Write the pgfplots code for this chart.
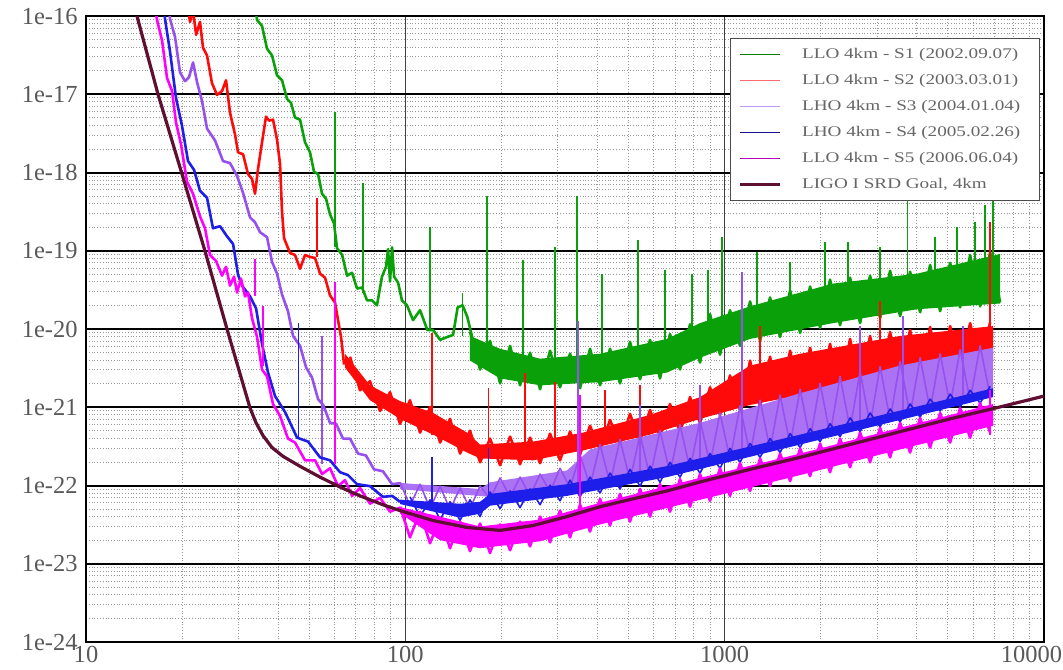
\documentclass[border=0pt]{standalone}
\usepackage{pgfplots}
\pgfplotsset{compat=1.18}
\usepackage{fontspec}
\setmainfont{Liberation Serif}
\newfontfamily\wide[FakeStretch=1.3]{Liberation Serif}
\definecolor{cS1}{RGB}{10,160,10}
\definecolor{cS2}{RGB}{255,10,10}
\definecolor{cS3}{RGB}{150,80,240}
\definecolor{cS4}{RGB}{30,30,235}
\definecolor{cS5}{RGB}{255,0,255}
\definecolor{cGoal}{RGB}{95,15,50}
\pgfplotsset{
 zig/.style={line width=1.3bp, line join=round, forget plot},
 low/.style={line width=1.3bp, line join=round, forget plot},
 spk/.style={line width=0.7bp, unbounded coords=jump, forget plot},
 band/.style={draw=none, forget plot}
}
\newcommand{\ylab}[1]{#1\kern3bp}
\newcommand{\legtxt}[1]{\hspace*{10bp}#1\kern3.5bp}
\begin{document}
\begin{tikzpicture}
\begin{axis}[
 xmode=log, ymode=log,
 scale only axis, width=479bp, height=313bp,
 xmin=10, xmax=10000, ymin=1e-24, ymax=1e-16,
 xtick={10,100,1000,10000}, xticklabels={10,100,1000,{\hbox to 0pt{\hss 10000\kern-9bp}}},
 ytick={1e-24,1e-23,1e-22,1e-21,1e-20,1e-19,1e-18,1e-17,1e-16},
 yticklabels={\ylab{1e-24},\ylab{1e-23},\ylab{1e-22},\ylab{1e-21},\ylab{1e-20},\ylab{1e-19},\ylab{1e-18},\ylab{1e-17},\ylab{1e-16}},
 minor xtick={20,30,40,50,60,70,80,90,200,300,400,500,600,700,800,900,2000,3000,4000,5000,6000,7000,8000,9000},
 minor ytick={2e-24,3e-24,4e-24,5e-24,6e-24,7e-24,8e-24,9e-24,
 2e-23,3e-23,4e-23,5e-23,6e-23,7e-23,8e-23,9e-23,
 2e-22,3e-22,4e-22,5e-22,6e-22,7e-22,8e-22,9e-22,
 2e-21,3e-21,4e-21,5e-21,6e-21,7e-21,8e-21,9e-21,
 2e-20,3e-20,4e-20,5e-20,6e-20,7e-20,8e-20,9e-20,
 2e-19,3e-19,4e-19,5e-19,6e-19,7e-19,8e-19,9e-19,
 2e-18,3e-18,4e-18,5e-18,6e-18,7e-18,8e-18,9e-18,
 2e-17,3e-17,4e-17,5e-17,6e-17,7e-17,8e-17,9e-17},
 grid=both,
 major x grid style={black!75, line width=0.6bp},
 major y grid style={black, line width=1bp},
 minor grid style={black!40, densely dotted, line width=0.45bp},
 major tick length=0pt, minor tick length=0pt,
 axis line style={black, line width=1.2bp},
 ticklabel style={font=\fontsize{12.3}{13}\selectfont, text=black!65, inner sep=1bp},
 xticklabel style={yshift=-1bp},
 legend style={at={(0.9958,0.965)}, anchor=north east, draw=black!70, line width=0.6bp,
   fill=white, font=\wide\fontsize{7.4}{9}\selectfont, text=black!60,
   inner xsep=5bp, inner ysep=3bp, row sep=3bp,
   nodes={inner sep=1bp, text height=6bp, text depth=2bp}},
 legend cell align=left,
 legend image code/.code={\draw[#1, overlay] (0bp,0bp) -- (20bp,0bp); \path[draw=none, fill=none] (0bp,0bp) -- (20bp,0bp);},
]
% ===== legend =====
\addlegendimage{cS1!80!black, line width=0.6bp}\addlegendentry{\legtxt{LLO 4km - S1 (2002.09.07)}}
\addlegendimage{cS2!60!white, line width=0.6bp}\addlegendentry{\legtxt{LLO 4km - S2 (2003.03.01)}}
\addlegendimage{cS3!60!white, line width=0.6bp}\addlegendentry{\legtxt{LHO 4km - S3 (2004.01.04)}}
\addlegendimage{cS4!60!black, line width=0.7bp}\addlegendentry{\legtxt{LHO 4km - S4 (2005.02.26)}}
\addlegendimage{cS5!70!black, line width=0.6bp}\addlegendentry{\legtxt{LLO 4km - S5 (2006.06.04)}}
\addlegendimage{cGoal, line width=1.6bp}\addlegendentry{\legtxt{LIGO I SRD Goal, 4km}}

% ===== S1 green =====
\addplot[band, fill=cS1] coordinates {(159.4,8.16e-21) (198,5.59e-21) (264.2,4.18e-21) (407.1,4.83e-21) (660,7.48e-21) (837.1,1.19e-20) (1201,1.95e-20) (2185,3.81e-20) (4005,5.10e-20) (7288,9.1e-20) (7288,2.12e-20) (4005,1.79e-20) (2185,1.19e-20) (1201,7.48e-21) (837.1,4.30e-21) (660,2.78e-21) (407.1,2.09e-21) (264.2,1.91e-21) (198,2.34e-21) (159.4,3.95e-21)};
\addplot[zig, cS1] coordinates {(159.4,9.17e-21) (171.4,3.04e-21) (184.2,7.06e-21) (198,2.02e-21) (212.8,6.10e-21) (228.7,1.91e-21) (245.8,4.98e-21) (264.2,1.70e-21) (283.9,5.28e-21) (305.1,1.80e-21) (327.9,4.83e-21) (352.4,1.75e-21) (378.8,5.59e-21) (407.1,1.91e-21) (437.5,5.59e-21) (470.2,2.02e-21) (505.3,6.86e-21) (543.2,2.28e-21) (583.8,7.27e-21) (627.4,2.34e-21) (674.3,8.64e-21) (724.7,3.04e-21) (779,1.15e-20) (837.1,3.73e-21) (899.7,1.55e-20) (966.9,4.70e-21) (1039,1.74e-20) (1117,6.10e-21) (1201,2.25e-20) (1291,7.06e-21) (1387,2.53e-20) (1491,7.92e-21) (1603,3.11e-20) (1723,8.91e-21) (1851,3.49e-20) (1990,1.03e-20) (2138,4.28e-20) (2298,1.12e-20) (2470,4.53e-20) (2655,1.19e-20) (2853,4.81e-20) (3067,1.38e-20) (3296,5.56e-20) (3543,1.46e-20) (3807,5.40e-20) (4093,1.64e-20) (4399,6.61e-20) (4728,1.69e-20) (5082,7.00e-20) (5461,1.89e-20) (5870,8.83e-20) (6309,1.95e-20) (6781,9.64e-20) (7288,2.18e-20)};
\addplot[low, cS1] coordinates {(33.1,2.39e-16) (34.33,8.91e-17) (35.58,7.47e-17) (36.89,3.83e-17) (38.25,3.13e-17) (39.65,1.75e-17) (41.1,1.51e-17) (42.62,8.71e-18) (43.86,7.75e-18) (45.14,5.03e-18) (46.8,4.74e-18) (48.52,2.43e-18) (50.29,1.81e-18) (51.77,1.02e-18) (53.3,9.57e-19) (54.86,5.35e-19) (56.46,4.62e-19) (58.1,2.91e-19) (59.8,2.24e-19) (61.1,1.08e-19) (63.4,8.83e-20) (65.7,4.81e-20) (68.1,5.24e-20) (70.6,3.29e-20) (73.2,3.39e-20) (75.9,2.32e-20) (78.65,2.32e-20) (81.5,2.01e-20) (84.5,4.67e-20) (87.0,6.24e-20) (88.3,1.05e-19) (89.55,4.04e-20) (90.9,1.11e-19) (92.2,4.67e-20) (94.9,3.92e-20) (97.6,2.32e-20) (101.2,2.01e-20) (105.7,1.30e-20) (111.2,1.74e-20) (117.2,9.72e-21) (122.2,9.72e-21) (128.5,7.27e-21) (135.3,7.92e-21) (141.1,8.40e-21) (145.8,1.89e-20) (151.1,2.01e-20) (156.4,1.42e-20) (164.1,6.28e-21)};
\addplot[spk, cS1] coordinates {(60.23,5.97e-18)(60.23,1.11e-19)(60.23,nan) (73.7,7.38e-19)(73.7,2.85e-20)(73.7,nan) (119.5,2.0e-19)(119.5,9.44e-21)(119.5,nan) (151.1,2.85e-20)(151.1,8.16e-21)(151.1,nan) (180.3,5.04e-19)(180.3,4.56e-21)(180.3,nan) (233.7,7.64e-20)(233.7,3.41e-21)(233.7,nan) (294.3,1.11e-19)(294.3,3.95e-21)(294.3,nan) (345,5.04e-19)(345,3.95e-21)(345,nan) (413,5.10e-20)(413,4.56e-21)(413,nan) (535.5,1.37e-19)(535.5,5.28e-21)(535.5,nan) (650.4,5.72e-20)(650.4,6.10e-21)(650.4,nan) (790,5.10e-20)(790,8.16e-21)(790,nan) (887,5.72e-20)(887,9.44e-21)(887,nan) (981,1.49e-19)(981,1.26e-20)(981,nan) (1264,9.64e-20)(1264,1.95e-20)(1264,nan) (1603,7.21e-20)(1603,2.61e-20)(1603,nan) (2062,1.29e-19)(2062,3.02e-20)(2062,nan) (2435,1.29e-19)(2435,3.49e-20)(2435,nan) (3067,1.11e-19)(3067,4.04e-20)(3067,nan) (3730,4.36e-19)(3730,4.67e-20)(3730,nan) (4558,1.49e-19)(4558,5.4e-20)(4558,nan) (5340,2.0e-19)(5340,6.24e-20)(5340,nan) (6082,2.31e-19)(6082,7.21e-20)(6082,nan) (6537,3.89e-19)(6537,7.21e-20)(6537,nan) (6932,5.51e-19)(6932,8.34e-20)};

% ===== S2 red =====
\addplot[band, fill=cS2] coordinates {(64.74,4.83e-21) (77.52,1.91e-21) (96.25,1.20e-21) (122.2,8.46e-22) (156.1,4.74e-22) (171.4,3.34e-22) (251.2,3.64e-22) (360.1,4.74e-22) (583.8,7.98e-22) (837.1,1.35e-21) (1201,3.41e-21) (1723,4.83e-21) (3543,8.16e-21) (6932,1.09e-20) (6932,3.84e-21) (3543,2.55e-21) (1723,1.43e-21) (1201,1.07e-21) (837.1,7.11e-22) (583.8,4.47e-22) (360.1,2.81e-22) (251.2,2.10e-22) (171.4,2.22e-22) (156.1,2.64e-22) (122.2,4.47e-22) (96.25,7.11e-22) (77.52,1.23e-21) (64.74,3.22e-21)};
\addplot[zig, cS2] coordinates {(67.12,4.43e-21) (72.13,1.65e-21) (77.52,2.15e-21) (83.32,8.96e-22) (89.55,1.56e-21) (96.25,6.15e-22) (103.4,1.23e-21) (111.2,4.74e-22) (119.5,1.01e-21) (128.5,3.54e-22) (138,7.11e-22) (148.4,2.56e-22) (159.4,5.01e-22) (171.4,1.98e-22) (184.2,3.98e-22) (198,1.82e-22) (212.8,4.22e-22) (228.7,1.87e-22) (245.8,4.09e-22) (264.2,1.93e-22) (283.9,4.60e-22) (305.1,2.10e-22) (327.9,4.87e-22) (352.4,2.49e-22) (378.8,5.80e-22) (407.1,2.81e-22) (437.5,6.90e-22) (470.2,3.34e-22) (505.3,8.22e-22) (543.2,3.64e-22) (583.8,9.23e-22) (627.4,4.22e-22) (674.3,1.10e-21) (724.7,4.74e-22) (779,1.35e-21) (837.1,6.32e-22) (899.7,1.80e-21) (966.9,7.98e-22) (1039,2.55e-21) (1117,9.23e-22) (1201,3.95e-21) (1291,1.01e-21) (1387,4.43e-21) (1491,1.13e-21) (1603,5.28e-21) (1723,1.27e-21) (1851,5.76e-21) (1990,1.43e-21) (2138,6.46e-21) (2298,1.56e-21) (2470,7.48e-21) (2655,1.80e-21) (2853,8.16e-21) (3067,2.02e-21) (3296,9.17e-21) (3543,2.28e-21) (3807,9.72e-21) (4093,2.48e-21) (4399,1.06e-20) (4728,2.78e-21) (5082,1.09e-20) (5461,2.95e-21) (5870,1.19e-20) (6309,3.22e-21) (6781,1.22e-20)};
\addplot[low, cS2] coordinates {(20.42,2.39e-16) (21.17,8.41e-17) (21.64,1.19e-16) (22.12,5.75e-17) (22.75,8.41e-17) (23.25,3.94e-17) (23.93,3.13e-17) (24.8,1.39e-17) (25.72,9.81e-18) (26.67,1.10e-17) (27.45,1.51e-17) (28.25,5.81e-18) (29.29,3.06e-18) (29.93,1.81e-18) (31.03,1.71e-18) (32.16,9.57e-19) (33.1,8.28e-19) (33.83,5.35e-19) (34.57,1.11e-18) (35.58,2.43e-18) (36.62,5.17e-18) (37.43,4.61e-18) (38.52,4.74e-18) (39.65,2.64e-18) (40.52,1.28e-18) (41.1,3.17e-19) (41.7,1.45e-19) (43.54,9.36e-20) (45.14,8.83e-20) (46.8,5.89e-20) (48.52,8.83e-20) (50.29,8.34e-20) (52.14,8.10e-20) (54.07,5.10e-20) (56.05,4.53e-20) (58.1,2.69e-20) (60.23,2.18e-20) (61.55,1.30e-20) (62.9,7.92e-21) (64.3,3.51e-21)};
\addplot[spk, cS2] coordinates {(52.9,4.76e-19)(52.9,8.34e-20)(52.9,nan) (121.2,8.91e-21)(121.2,4.47e-22)(121.2,nan) (182.2,1.75e-21)(182.2,2.49e-22)(182.2,nan) (237.1,2.78e-21)(237.1,2.89e-22)(237.1,nan) (294.3,2.09e-21)(294.3,3.34e-22)(294.3,nan) (422,1.65e-21)(422,4.47e-22)(422,nan) (543.2,1.91e-21)(543.2,5.97e-22)(543.2,nan) (1291,1.09e-20)(1291,1.91e-21)(1291,nan) (3067,2.25e-20)(3067,6.10e-21)(3067,nan) (6781,2.31e-19)(6781,8.16e-21)};

% ===== S3 purple =====
\addplot[band, fill=cS3!80!white] coordinates {(96.25,1.08e-22) (171.4,9.03e-23) (184.2,1.10e-22) (320.8,1.56e-22) (378.8,2.89e-22) (837.1,6.32e-22) (1723,1.51e-21) (3543,3.41e-21) (6932,5.76e-21) (6932,1.51e-21) (3543,7.98e-22) (1723,3.75e-22) (837.1,1.87e-22) (378.8,1.04e-22) (184.2,7.16e-23) (96.25,9.0e-23)};
\addplot[zig, cS3, line width=0.8bp] coordinates {(96.25,1.10e-22) (103.4,5.52e-23) (111.2,1.04e-22) (119.5,5.06e-23) (128.5,9.82e-23) (138,4.91e-23) (148.4,9.30e-23) (159.4,5.06e-23) (171.4,9.82e-23) (184.2,6.76e-23) (198,1.25e-22) (212.8,7.16e-23) (228.7,1.28e-22) (245.8,7.37e-23) (264.2,1.40e-22) (283.9,8.27e-23) (305.1,1.66e-22) (327.9,9.30e-23) (352.4,2.49e-22) (378.8,9.82e-23) (407.1,3.34e-22) (437.5,1.07e-22) (470.2,3.86e-22) (505.3,1.17e-22) (543.2,4.47e-22) (583.8,1.28e-22) (627.4,5.01e-22) (674.3,1.44e-22) (724.7,5.97e-22) (779,1.61e-22) (837.1,6.90e-22) (899.7,1.87e-22) (966.9,8.45e-22) (1039,2.16e-22) (1117,1.04e-21) (1201,2.49e-22) (1291,1.23e-21) (1387,2.89e-22) (1491,1.43e-21) (1603,3.34e-22) (1723,1.70e-21) (1851,3.86e-22) (1990,2.02e-21) (2138,4.47e-22) (2298,2.48e-21) (2470,5.31e-22) (2655,2.86e-21) (2853,5.97e-22) (3067,3.31e-21) (3296,6.90e-22) (3543,3.84e-21) (3807,7.98e-22) (4093,4.30e-21) (4399,9.23e-22) (4728,4.83e-21) (5082,1.07e-21) (5461,5.44e-21) (5870,1.23e-21) (6309,6.10e-21) (6781,1.39e-21)};
\addplot[low, cS3] coordinates {(17.68,3.10e-16) (18.33,9.18e-17) (19.0,5.43e-17) (19.7,1.91e-17) (20.42,1.47e-17) (21.02,1.65e-17) (21.64,2.55e-17) (22.27,1.43e-17) (23.08,8.22e-18) (23.93,3.65e-18) (25.35,2.57e-18) (26.86,1.40e-18) (28.25,1.32e-18) (29.72,9.04e-19) (31.03,5.51e-19) (32.63,2.67e-19) (33.83,2.31e-19) (35.07,1.73e-19) (36.89,1.49e-19) (38.25,7.21e-20) (39.65,5.10e-20) (41.1,2.76e-20) (42.9,1.69e-20) (44.5,8.16e-21) (46.8,6.10e-21) (48.9,3.22e-21) (51.0,2.41e-21) (53.3,1.27e-21) (55.3,1.07e-21) (58.1,6.32e-22) (60.7,6.15e-22) (63.8,3.98e-22) (67.12,3.98e-22) (71.1,2.56e-22) (75.3,2.42e-22) (79.8,1.61e-22) (85.1,1.52e-22) (90.9,1.04e-22) (96.25,1.07e-22)};
\addplot[spk, cS3] coordinates {(54.86,8.16e-21)(54.86,1.87e-22)(54.86,nan) (347.3,1.26e-20)(347.3,9.03e-23)(347.3,nan) (1133,5.40e-20)(1133,2.89e-22)(1133,nan) (3620,1.46e-20)(3620,7.98e-22)(3620,nan) (5580,1.09e-20)(5580,1.23e-21)(5580,nan) (2655,1.09e-20)(2655,5.97e-22)(2655,nan) (837.1,1.91e-21)(837.1,1.87e-22)(837.1,nan) (543.2,1.07e-21)(543.2,1.40e-22)};

% ===== S4 blue =====
\addplot[band, fill=cS4] coordinates {(96.25,6.6e-23) (148.4,5.85e-23) (171.4,6.20e-23) (184.2,7.81e-23) (320.8,1.04e-22) (660,1.77e-22) (1723,4.47e-22) (6932,1.75e-21) (6932,1.35e-21) (1723,3.34e-22) (660,1.28e-22) (320.8,7.37e-23) (184.2,5.52e-23) (171.4,4.37e-23) (148.4,3.89e-23) (96.25,5.8e-23)};
\addplot[zig, cS4, line width=0.8bp] coordinates {(103.4,7.16e-23) (111.2,4.00e-23) (119.5,6.56e-23) (128.5,3.67e-23) (138,6.20e-23) (148.4,3.57e-23) (159.4,6.56e-23) (171.4,4.00e-23) (184.2,8.27e-23) (198,5.06e-23) (212.8,8.52e-23) (228.7,5.21e-23) (245.8,9.03e-23) (264.2,5.68e-23) (283.9,1.01e-22) (305.1,6.38e-23) (327.9,1.17e-22) (352.4,7.16e-23) (378.8,1.28e-22) (407.1,8.04e-23) (437.5,1.44e-22) (470.2,9.03e-23) (505.3,1.61e-22) (543.2,9.82e-23) (583.8,1.77e-22) (627.4,1.10e-22) (674.3,1.98e-22) (724.7,1.28e-22) (779,2.22e-22) (837.1,1.44e-22) (899.7,2.56e-22) (966.9,1.66e-22) (1039,2.98e-22) (1117,1.98e-22) (1201,3.44e-22) (1291,2.29e-22) (1387,3.98e-22) (1491,2.64e-22) (1603,4.60e-22) (1723,3.06e-22) (1851,5.31e-22) (1990,3.64e-22) (2138,6.15e-22) (2298,4.22e-22) (2470,7.31e-22) (2655,4.87e-22) (2853,8.45e-22) (3067,5.64e-22) (3296,9.51e-22) (3543,6.51e-22) (3807,1.10e-21) (4093,7.53e-22) (4399,1.27e-21) (4728,8.96e-22) (5082,1.47e-21) (5461,1.01e-21) (5870,1.65e-21) (6309,1.13e-21) (6781,1.85e-21)};
\addplot[low, cS4] coordinates {(17.06,3.10e-16) (17.68,9.18e-17) (18.33,3.51e-17) (19.14,8.97e-18) (19.98,3.98e-18) (20.87,1.40e-18) (21.8,1.08e-18) (22.75,5.84e-19) (23.93,4.76e-19) (24.98,1.94e-19) (26.29,2.06e-19) (27.64,1.53e-19) (28.88,1.22e-19) (29.93,4.95e-20) (30.8,3.59e-20) (32.63,2.61e-20) (34.08,1.84e-20) (35.58,6.46e-21) (37.16,2.78e-21) (39.08,1.39e-21) (42.0,8.71e-22) (45.8,4.09e-22) (49.6,3.64e-22) (54.07,2.29e-22) (58.1,2.10e-22) (62.45,1.48e-22) (66.1,1.36e-22) (70.6,1.04e-22) (77.52,9.82e-23) (85.1,7.16e-23) (90.9,7.37e-23) (96.25,6.20e-23)};
\addplot[spk, cS4] coordinates {(46.2,1.19e-20)(46.2,4.09e-22)(46.2,nan) (121.2,2.29e-22)(121.2,5.06e-23)(121.2,nan) (182.2,3.06e-22)(182.2,6.76e-23)};

% ===== S5 magenta =====
\addplot[band, fill=cS5] coordinates {(96.25,5.3e-23) (128.5,4.0e-23) (171.4,3.0e-23) (264.2,3.67e-23) (407.1,6.02e-23) (837.1,1.25e-22) (1723,2.56e-22) (3543,5.47e-22) (6932,1.10e-21) (6932,5.80e-22) (3543,2.89e-22) (1723,1.36e-22) (837.1,6.56e-23) (407.1,3.18e-23) (264.2,1.94e-23) (171.4,1.58e-23) (128.5,2.0e-23) (96.25,4.4e-23)};
\addplot[zig, cS5] coordinates {(96.25,5.36e-23) (103.4,2.17e-23) (111.2,4.63e-23) (119.5,1.83e-23) (128.5,3.89e-23) (138,1.58e-23) (148.4,3.46e-23) (159.4,1.45e-23) (171.4,3.27e-23) (184.2,1.37e-23) (198,3.18e-23) (212.8,1.49e-23) (228.7,3.46e-23) (245.8,1.67e-23) (264.2,4.00e-23) (283.9,1.88e-23) (305.1,4.78e-23) (327.9,2.17e-23) (352.4,5.68e-23) (378.8,2.58e-23) (407.1,6.76e-23) (437.5,3.09e-23) (470.2,7.81e-23) (505.3,3.46e-23) (543.2,9.03e-23) (583.8,4.00e-23) (627.4,1.04e-22) (674.3,4.63e-23) (724.7,1.21e-22) (779,5.36e-23) (837.1,1.40e-22) (899.7,6.38e-23) (966.9,1.66e-22) (1039,7.37e-23) (1117,1.93e-22) (1201,8.52e-23) (1291,2.22e-22) (1387,9.82e-23) (1491,2.56e-22) (1603,1.14e-22) (1723,2.98e-22) (1851,1.32e-22) (1990,3.44e-22) (2138,1.48e-22) (2298,3.98e-22) (2470,1.71e-22) (2655,4.74e-22) (2853,1.98e-22) (3067,5.47e-22) (3296,2.29e-22) (3543,6.32e-22) (3807,2.64e-22) (4093,7.31e-22) (4399,3.06e-22) (4728,8.45e-22) (5082,3.54e-22) (5461,9.78e-22) (5870,4.09e-22) (6309,1.13e-21) (6781,4.74e-22)};
\addplot[low, cS5] coordinates {(15.86,3.20e-16) (16.69,8.91e-17) (17.31,4.83e-17) (17.94,1.61e-17) (18.6,1.10e-17) (19.14,4.35e-18) (19.84,2.29e-18) (20.72,7.60e-19) (21.64,5.35e-19) (22.75,2.75e-19) (23.59,1.94e-19) (24.45,8.83e-20) (25.53,7.43e-20) (26.67,4.81e-20) (27.45,6.24e-20) (28.25,3.59e-20) (29.08,4.67e-20) (29.72,2.93e-20) (30.58,4.41e-20) (31.48,2.61e-20) (32.16,2.93e-20) (33.1,1.38e-20) (34.33,7.92e-21) (35.58,3.04e-21) (36.89,2.48e-21) (38.52,1.10e-21) (40.52,7.75e-22) (42.9,3.98e-22) (45.14,3.54e-22) (48.52,2.10e-22) (52.14,2.10e-22) (54.86,1.40e-22) (58.1,1.66e-22) (61.55,9.82e-23) (64.74,1.17e-22) (68.1,7.37e-23) (72.13,9.30e-23) (77.52,5.85e-23) (83.32,6.96e-23) (89.55,4.63e-23) (96.25,5.21e-23)};
\addplot[spk, cS5, line width=1.2bp] coordinates {(33.83,7.87e-20)(33.83,2.61e-20)(33.83,nan) (35.84,1.95e-20)(35.84,3.41e-21)(35.84,nan) (60.23,4.04e-20)(60.23,1.87e-22)(60.23,nan) (352.4,1.43e-21)(352.4,2.83e-23)(352.4,nan) (6781,1.65e-21)(6781,4.47e-22)};

% ===== Goal =====
\addplot[cGoal, line width=1.6bp, line join=round, forget plot] coordinates {(13.25,5.09e-16) (14.44,1e-16) (16.81,1e-17) (19.98,9.6e-19) (23.59,9.9e-20) (27.64,1e-20) (32.63,9.8e-22) (34.08,6.33e-22) (35.84,4.34e-22) (38.24,3.06e-22) (41.4,2.36e-22) (46.8,1.76e-22) (54.07,1.28e-22) (62.45,9.57e-23) (72.13,7.37e-23) (85.2,5.67e-23) (96.25,4.78e-23) (122.1,3.57e-23) (156.1,2.91e-23) (198,2.67e-23) (251.2,3.08e-23) (320.8,4.01e-23) (407.1,5.36e-23) (516.5,6.76e-23) (660.1,8.53e-23) (837.1,1.11e-22) (1201,1.61e-22) (1723,2.29e-22) (2470,3.34e-22) (3543,4.88e-22) (5082,7.11e-22) (7288,1.01e-21) (10000,1.39e-21)};
\end{axis}
\pgfresetboundingbox
\path (-43bp,-14bp) rectangle (488.5bp,321bp);
\end{tikzpicture}
\end{document}
